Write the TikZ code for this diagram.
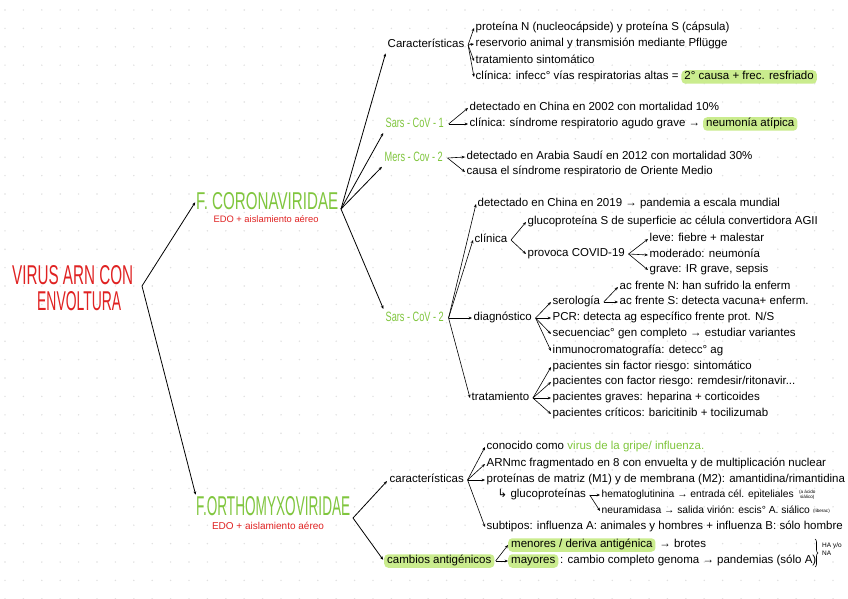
\documentclass[tikz,border=0pt]{standalone}
\usepackage{graphicx}
\usepackage{fontspec}
\setmainfont{Liberation Sans}
\newfontfamily\symfont{DejaVu Sans}
\usetikzlibrary{arrows.meta,positioning,decorations.pathreplacing}

\definecolor{titred}{RGB}{224,34,34}
\definecolor{famgreen}{RGB}{128,198,62}
\definecolor{hlgreen}{RGB}{202,236,142}
\definecolor{dotgray}{RGB}{224,224,224}

\newcommand{\narrow}[1]{\scalebox{0.68}[1]{#1}}

\tikzset{
    txt/.style={anchor=west, inner sep=1.5pt, text height=8pt, text depth=2.5pt, font=\fontsize{11.5}{12}\selectfont},
    hl/.style={txt, fill=hlgreen, rounded corners=4pt, inner xsep=3pt},
    sub/.style={txt, text=famgreen, text height=9.5pt, font=\fontsize{13.5}{14}\selectfont},
    fam/.style={anchor=west, inner sep=0pt, text=famgreen},
    edo/.style={inner sep=0pt, text=titred},
    tiny/.style={anchor=west, inner sep=0.3pt, font=\fontsize{4.6}{4.8}\selectfont},
    br/.style={->, line width=0.6pt},
    big/.style={->, line width=0.8pt, shorten >=1.5pt},
}

\begin{document}
\begin{tikzpicture}[x=1pt, y=-1pt, >={Stealth[length=3.4pt,width=2.8pt]}]
    \useasboundingbox (0,0) rectangle (848,599);
    \fill[white] (0,0) rectangle (848,599);

    % dotted paper
    \foreach \i in {0,...,46}
        \foreach \j in {0,...,32}
            \fill[dotgray] (5+\i*18.4,10+\j*18.4) circle (0.8);

    % root
    \node[anchor=west, inner sep=0pt, text=titred] (root1) at (12,275) {\resizebox{121pt}{19pt}{VIRUS ARN CON}};
    \node[anchor=west, inner sep=0pt, text=titred] (root2) at (37,301) {\resizebox{84pt}{19pt}{ENVOLTURA}};
    \coordinate (rv) at (142,286);

    % families
    \node[fam] (corona) at (196,201) {\resizebox{142pt}{17pt}{F. CORONAVIRIDAE}};
    \node[edo] (coronaedo) at (266,219) {\resizebox{105pt}{!}{EDO + aislamiento aéreo}};
    \node[fam] (ortho) at (196,506) {\resizebox{154pt}{19pt}{F.ORTHOMYXOVIRIDAE}};
    \node[edo] (orthoedo) at (268,526) {\resizebox{112pt}{!}{EDO + aislamiento aéreo}};

    \draw[big] (rv) -- (corona.west);
    \draw[big] (rv) -- (ortho.north west);

    % coronaviridae
    \coordinate (cv) at (341,209);
    \node[txt] (car1) at (386,45) {Características};
    \node[sub] (sc1) at (384,124) {\narrow{Sars - CoV - 1}};
    \node[sub] (mers) at (383,158) {\narrow{Mers - Cov - 2}};
    \node[sub] (sc2) at (384,318) {\narrow{Sars - CoV - 2}};
    \draw[big] (cv) -- (car1.south west);
    \draw[big] (cv) -- (sc1.south west);
    \draw[big] (cv) -- (mers.south west);
    \draw[big] (cv) -- (sc2.north west);

    % caracteristicas
    \node[txt] (c1a) at (474,28) {proteína N (nucleocápside) y proteína S (cápsula)};
    \node[txt] (c1b) at (474,44) {reservorio animal y transmisión mediante Pflügge};
    \node[txt] (c1c) at (474,61) {tratamiento sintomático};
    \node[txt] (c1d) at (474,77) {clínica: infecc° vías respiratorias altas =};
    \node[hl, right=1pt of c1d] (c1dh) {2° causa + frec. resfriado};
    \coordinate (car1f) at ([xshift=2pt]car1.east);
    \foreach \n in {c1a,c1b,c1c,c1d}
        \draw[br] (car1f) -- (\n.west);

    % sars-cov-1
    \node[txt] (s1a) at (468,108) {detectado en China en 2002 con mortalidad 10\%};
    \node[txt] (s1b) at (468,124) {clínica: síndrome respiratorio agudo grave →};
    \node[hl, right=1pt of s1b] (s1bh) {neumonía atípica};
    \coordinate (sc1f) at ([xshift=3pt]sc1.east);
    \foreach \n in {s1a,s1b}
        \draw[br] (sc1f) -- (\n.west);

    % mers-cov-2
    \node[txt] (m2a) at (465,157) {detectado en Arabia Saudí en 2012 con mortalidad 30\%};
    \node[txt] (m2b) at (465,172) {causa el síndrome respiratorio de Oriente Medio};
    \coordinate (mersf) at ([xshift=3pt]mers.east);
    \foreach \n in {m2a,m2b}
        \draw[br] (mersf) -- (\n.west);

    % sars-cov-2
    \node[txt] (s2a) at (476,204) {detectado en China en 2019 → pandemia a escala mundial};
    \node[txt] (s2cl) at (473,240) {clínica};
    \node[txt] (s2dg) at (472,318) {diagnóstico};
    \node[txt] (s2tr) at (470,398) {tratamiento};
    \coordinate (sc2f) at ([xshift=3pt]sc2.east);
    \foreach \n in {s2a,s2cl,s2dg,s2tr}
        \draw[br] (sc2f) -- (\n.west);

    \node[txt] (gluc) at (526,222) {glucoproteína S de superficie ac célula convertidora AGII};
    \node[txt] (prov) at (526,254) {provoca COVID-19};
    \coordinate (s2clf) at ([xshift=2pt]s2cl.east);
    \foreach \n in {gluc,prov}
        \draw[br] (s2clf) -- (\n.west);

    \node[txt] (leve) at (648,239) {leve: fiebre + malestar};
    \node[txt] (mode) at (648,255) {moderado: neumonía};
    \node[txt] (grav) at (648,270) {grave: IR grave, sepsis};
    \coordinate (provf) at ([xshift=2pt]prov.east);
    \foreach \n in {leve,mode,grav}
        \draw[br] (provf) -- (\n.west);

    \node[txt] (sero) at (551,302) {serología};
    \node[txt] (pcr) at (551,318) {PCR: detecta ag específico frente prot. N/S};
    \node[txt] (secu) at (551,334) {secuenciac° gen completo → estudiar variantes};
    \node[txt] (inmu) at (551,351) {inmunocromatografía: detecc° ag};
    \coordinate (s2dgf) at ([xshift=2pt]s2dg.east);
    \foreach \n in {sero,pcr,secu,inmu}
        \draw[br] (s2dgf) -- (\n.west);

    \node[txt] (acn) at (618,287) {ac frente N: han sufrido la enferm};
    \node[txt] (acs) at (618,302) {ac frente S: detecta vacuna+ enferm.};
    \coordinate (serof) at ([xshift=2pt]sero.east);
    \foreach \n in {acn,acs}
        \draw[br] (serof) -- (\n.west);

    \node[txt] (tr1) at (551,367) {pacientes sin factor riesgo: sintomático};
    \node[txt] (tr2) at (551,382) {pacientes con factor riesgo: remdesir/ritonavir...};
    \node[txt] (tr3) at (551,398) {pacientes graves: heparina + corticoides};
    \node[txt] (tr4) at (551,414) {pacientes críticos: baricitinib + tocilizumab};
    \coordinate (s2trf) at ([xshift=2pt]s2tr.east);
    \foreach \n in {tr1,tr2,tr3,tr4}
        \draw[br] (s2trf) -- (\n.west);

    % orthomyxoviridae
    \coordinate (ov) at (353,518);
    \node[txt] (car2) at (388,480) {características};
    \node[hl] (camb) at (384,561) {cambios antigénicos};
    \draw[big] (ov) -- (car2.west);
    \draw[big] (ov) -- (camb.west);

    \node[txt] (o1) at (485,447) {conocido como};
    \node[txt, text=famgreen, right=0pt of o1] (o1g) {virus de la gripe/ influenza.};
    \node[txt] (o2) at (485,464) {ARNmc fragmentado en 8 con envuelta y de multiplicación nuclear};
    \node[txt] (o3) at (485,480) {proteínas de matriz (M1) y de membrana (M2): amantidina/rimantidina};
    \node[txt] (o4) at (485,527) {subtipos: influenza A: animales y hombres + influenza B: sólo hombre};
    \coordinate (car2f) at ([xshift=2pt]car2.east);
    \foreach \n in {o1,o2,o3,o4}
        \draw[br] (car2f) -- (\n.west);

    \node[txt] (gl) at (496,495) {{\symfont ↳} glucoproteínas};
    \node[txt, font=\fontsize{10.3}{11}\selectfont] (hema) at (600,495) {hematoglutinina → entrada cél. epiteliales};
    \node[tiny, align=center, right=3pt of hema] (hemas) {(a ácido\\siálico)};
    \node[txt, font=\fontsize{10.3}{11}\selectfont] (neur) at (600,511) {neuramidasa → salida virión: escis° A. siálico};
    \node[tiny, right=1pt of neur] (neurs) {(liberac)};
    \coordinate (glf) at ([xshift=2pt]gl.east);
    \foreach \n in {hema,neur}
        \draw[br] (glf) -- (\n.west);

    \node[hl] (men) at (508,545) {menores / deriva antigénica};
    \node[txt, right=2pt of men] (menr) {→ brotes};
    \node[hl] (may) at (508,561) {mayores};
    \node[txt, right=0pt of may] (mayr) {: cambio completo genoma → pandemias (sólo A)};
    \coordinate (cambf) at ([xshift=1pt]camb.east);
    \foreach \n in {men,may}
        \draw[br] (cambf) -- (\n.west);

    \coordinate (bt) at (815,539);
    \coordinate (bb) at (815,567);
    \draw[line width=0.6pt, decorate, decoration={brace, amplitude=3pt}] (bt) -- (bb);
    \node[anchor=west, inner sep=0pt, align=left, font=\fontsize{6.5}{7.5}\selectfont] (hana) at (822,549) {HA y/o\\NA};
\end{tikzpicture}
\end{document}
